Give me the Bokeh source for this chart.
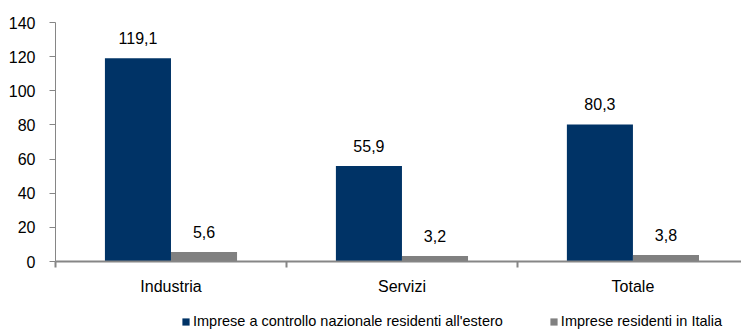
from bokeh.plotting import figure
from bokeh.layouts import column
from bokeh.models import ColumnDataSource, FixedTicker, Legend, LegendItem, Range1d, LabelSet
from bokeh.core.properties import value
from bokeh.embed import file_html
from bokeh.resources import INLINE

categories = ["Industria", "Servizi", "Totale"]
estero = [119.1, 55.9, 80.3]
italia = [5.6, 3.2, 3.8]
series_names = ["Imprese a controllo nazionale residenti all'estero", "Imprese residenti in Italia"]
y_ticks = [0, 20, 40, 60, 80, 100, 120, 140]

DARK = "#003366"
GRAY = "#808080"
FONT = "Liberation Sans"

centers = [i + 0.5 for i in range(len(categories))]
bw = 0.286

src1 = ColumnDataSource(dict(x=[c - bw / 2 for c in centers], top=estero,
                             lab=[f"{v:.1f}".replace(".", ",") for v in estero]))
src2 = ColumnDataSource(dict(x=[c + bw / 2 for c in centers], top=italia,
                             lab=[f"{v:.1f}".replace(".", ",") for v in italia]))

p = figure(width=741, height=305, output_backend="svg", toolbar_location=None,
           x_range=Range1d(0, 2.97), y_range=Range1d(0, 140),
           min_border_left=55, min_border_right=0, min_border_top=22, min_border_bottom=44)
p.outline_line_color = None
p.xgrid.grid_line_color = None
p.ygrid.grid_line_color = None

p.vbar(x="x", top="top", width=bw, source=src1, fill_color=DARK, line_color=None)
p.vbar(x="x", top="top", width=bw, source=src2, fill_color=GRAY, line_color=None)

for s in (src1, src2):
    p.add_layout(LabelSet(x="x", y="top", text="lab", source=s, text_align="center",
                          text_baseline="bottom", y_offset=14, text_font=value(FONT),
                          text_font_size=value("16px"), text_color="#000000"))

# y axis
ya = p.yaxis[0]
ya.ticker = FixedTicker(ticks=y_ticks)
ya.axis_line_color = "#868686"
ya.major_tick_line_color = "#868686"
ya.major_tick_out = 6
ya.major_tick_in = 0
ya.minor_tick_line_color = None
ya.major_label_standoff = 14
ya.major_label_text_font = FONT
ya.major_label_text_font_size = "16px"
ya.major_label_text_color = "#000000"

# x axis
xa = p.xaxis[0]
xa.ticker = FixedTicker(ticks=centers, minor_ticks=[0, 1, 2, 3])
xa.major_label_overrides = {c: n for c, n in zip(centers, categories)}
xa.axis_line_color = "#868686"
xa.axis_line_width = 2
xa.major_tick_line_color = None
xa.major_tick_out = 0
xa.minor_tick_line_color = "#868686"
xa.minor_tick_line_width = 2
xa.minor_tick_out = 6
xa.minor_tick_in = 0
xa.major_label_standoff = 10
xa.major_label_text_font = FONT
xa.major_label_text_font_size = "16px"
xa.major_label_text_color = "#000000"

# legend strip (separate small figure, same series/colours)
p2 = figure(width=741, height=29, output_backend="svg", toolbar_location=None,
            x_range=Range1d(0, 2.97), y_range=Range1d(1000, 1001),
            min_border_left=0, min_border_right=0, min_border_top=0, min_border_bottom=0)
p2.outline_line_color = None
p2.axis.visible = False
p2.grid.visible = False
g1 = p2.vbar(x="x", top="top", width=bw, source=src1, fill_color=DARK, line_color=None)
g2 = p2.vbar(x="x", top="top", width=bw, source=src2, fill_color=GRAY, line_color=None)

legend = Legend(items=[LegendItem(label=series_names[0], renderers=[g1]),
                       LegendItem(label=series_names[1], renderers=[g2])],
                orientation="horizontal", location=(126, 5),
                glyph_width=9, glyph_height=9, label_standoff=3, spacing=46,
                label_text_font=FONT, label_text_font_size="14.5px",
                label_height=14, label_text_baseline="middle",
                label_text_color="#000000", border_line_color=None,
                background_fill_alpha=0, padding=0, margin=0)
p2.add_layout(legend)

layout = column(p, p2, spacing=0)
open("out.html", "w").write(file_html(layout, INLINE))
